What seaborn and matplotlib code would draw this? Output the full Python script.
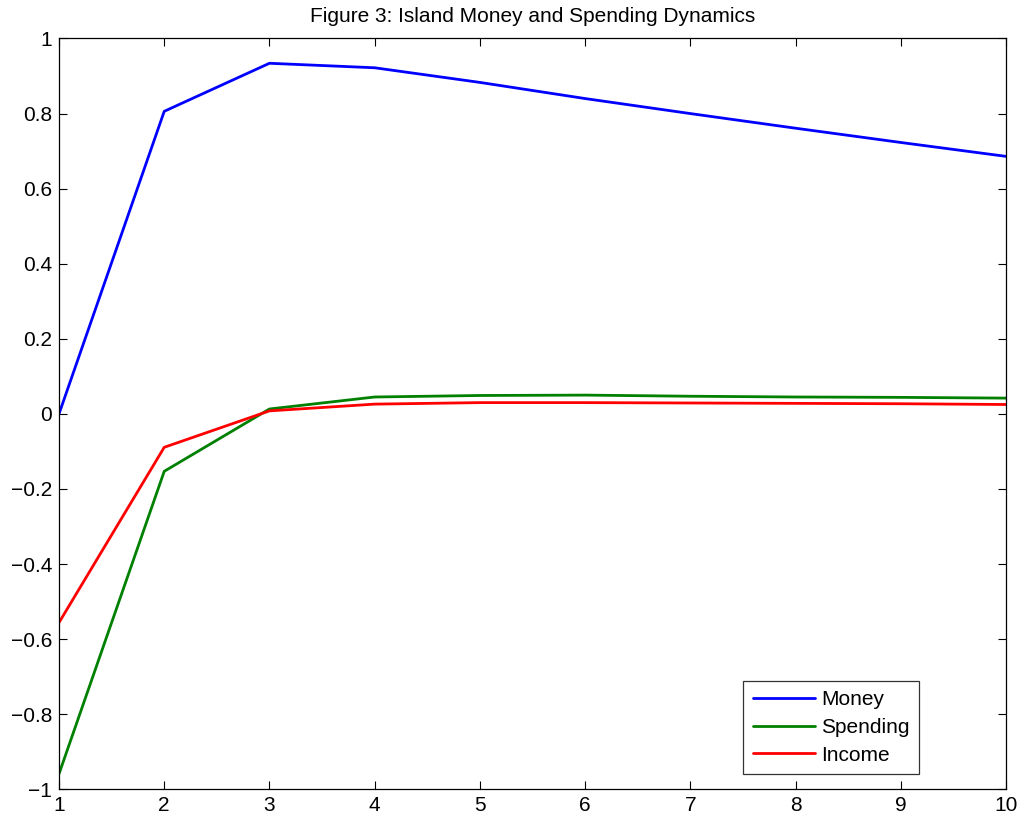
import pandas as pd
import matplotlib
matplotlib.use("Agg")
import matplotlib.pyplot as plt
import seaborn as sns

# ==========================================================
# Data
# ==========================================================

periods = [1, 2, 3, 4, 5, 6, 7, 8, 9, 10]
money = [0.0, 0.806, 0.934, 0.922, 0.883, 0.840, 0.800, 0.761, 0.723, 0.686]
spending = [-0.959, -0.153, 0.013, 0.045, 0.049, 0.050, 0.047, 0.045, 0.044, 0.042]
income = [-0.556, -0.089, 0.008, 0.026, 0.030, 0.030, 0.029, 0.028, 0.027, 0.025]

series_names = ["Money", "Spending", "Income"]
series_colors = ["#0000ff", "#008000", "#ff0000"]

y_ticks = [-1, -0.8, -0.6, -0.4, -0.2, 0, 0.2, 0.4, 0.6, 0.8, 1]
y_labels = ["\u22121", "\u22120.8", "\u22120.6", "\u22120.4", "\u22120.2",
            "0", "0.2", "0.4", "0.6", "0.8", "1"]

df = pd.DataFrame({
    "period": periods * 3,
    "value": money + spending + income,
    "series": [n for n in series_names for _ in periods],
})

# ==========================================================
# Style
# ==========================================================

sns.set_style("ticks")
plt.rcParams["font.family"] = ["Liberation Sans", "DejaVu Sans"]
plt.rcParams["text.color"] = "black"
plt.rcParams["axes.titlecolor"] = "black"

fig = plt.figure(figsize=(10.28, 8.19), dpi=100)
ax = fig.add_axes([0.0574, 0.0363, 0.9212, 0.9167])

sns.lineplot(
    data=df,
    x="period",
    y="value",
    hue="series",
    hue_order=series_names,
    palette=series_colors,
    linewidth=2.0,
    ax=ax
)

ax.set_xlim(1, 10)
ax.set_ylim(-1, 1)
ax.set_xticks(periods)
ax.set_xticklabels([str(p) for p in periods])
ax.set_yticks(y_ticks)
ax.set_yticklabels(y_labels)
ax.set_xlabel("")
ax.set_ylabel("")

for side in ["top", "right", "bottom", "left"]:
    ax.spines[side].set_visible(True)
    ax.spines[side].set_color("black")
    ax.spines[side].set_linewidth(0.9)

ax.tick_params(direction="in", length=6, width=0.8, labelsize=15,
               top=True, right=True, colors="black", pad=5)

ax.set_title("Figure 3: Island Money and Spending Dynamics", fontsize=15, pad=12,
             color="black")

leg = ax.legend(
    loc="lower right",
    bbox_to_anchor=(0.9085, 0.0204),
    fontsize=15,
    frameon=True,
    fancybox=False,
    edgecolor="black",
    labelcolor="black",
    handlelength=3.0,
    handletextpad=0.3,
    labelspacing=0.42,
    borderpad=0.45,
    borderaxespad=0,
)
leg.get_frame().set_linewidth(0.9)

plt.savefig("out.png", dpi=100)
